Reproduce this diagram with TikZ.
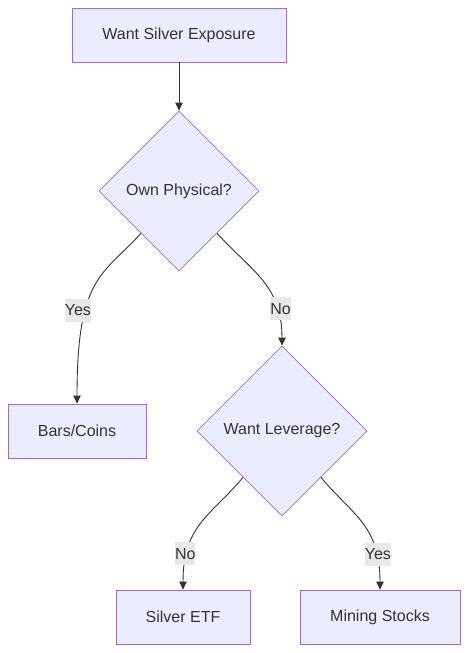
\documentclass[tikz,border=0pt]{standalone}
\usepackage{fontspec}
\setmainfont{Liberation Sans}
\usepackage{tikz}
\usetikzlibrary{shapes.geometric,arrows.meta}
\definecolor{nodefill}{HTML}{ECECFF}
\definecolor{nodeline}{HTML}{9370DB}
\definecolor{inkgray}{HTML}{333333}
\definecolor{labelgray}{HTML}{E8E8E8}

\begin{document}
\begin{tikzpicture}[x=1pt, y=1pt,
            choice/.style={draw=nodeline, fill=nodefill, line width=0.8pt, text=inkgray,
                minimum height=54pt, font=\fontsize{16}{19}\selectfont},
            question/.style={diamond, aspect=1, draw=nodeline, fill=nodefill, line width=0.8pt,
                text=inkgray, inner sep=0pt, font=\fontsize{16}{19}\selectfont},
            flow/.style={-{Triangle[length=8pt, width=7.5pt]}, draw=inkgray, line width=0.9pt},
            answer/.style={fill=labelgray, text=inkgray, inner xsep=0pt, inner ysep=0pt,
                minimum height=23pt, yshift=-5pt, font=\fontsize{16}{19}\selectfont}
        ]
            \useasboundingbox (0,0) rectangle (468,-653);

            % Nodes
            \node [choice, minimum width=214pt] (want) at (179,-35) {Want Silver Exposure};
            \node [question, minimum width=160pt, minimum height=160pt] (own) at (179,-191) {Own Physical?};
            \node [choice, minimum width=138pt] (bars) at (77,-431) {Bars/Coins};
            \node [question, minimum width=170pt, minimum height=170pt] (lever) at (282,-431) {Want Leverage?};
            \node [choice, minimum width=134pt] (etf) at (183,-617) {Silver ETF};
            \node [choice, minimum width=160pt] (mining) at (380,-617) {Mining Stocks};

            % Edges
            \draw [flow] (want) -- (own);
            \draw [flow] (own) to [out=228, in=90, out looseness=0.8, in looseness=1.8]
                node [answer, pos=0.63, xshift=-9pt] {Yes} (bars);
            \draw [flow] (own) to [out=312, in=90, out looseness=1, in looseness=1.2]
                node [answer, pos=0.75, xshift=4pt, yshift=4pt] {No} (lever);
            \draw [flow] (lever) to [out=230, in=90, out looseness=1, in looseness=1.3]
                node [answer, pos=0.74, xshift=-3pt] {No} (etf);
            \draw [flow] (lever) to [out=310, in=90, out looseness=1, in looseness=1.3]
                node [answer, pos=0.74, xshift=3pt] {Yes} (mining);
        \end{tikzpicture}
\end{document}
